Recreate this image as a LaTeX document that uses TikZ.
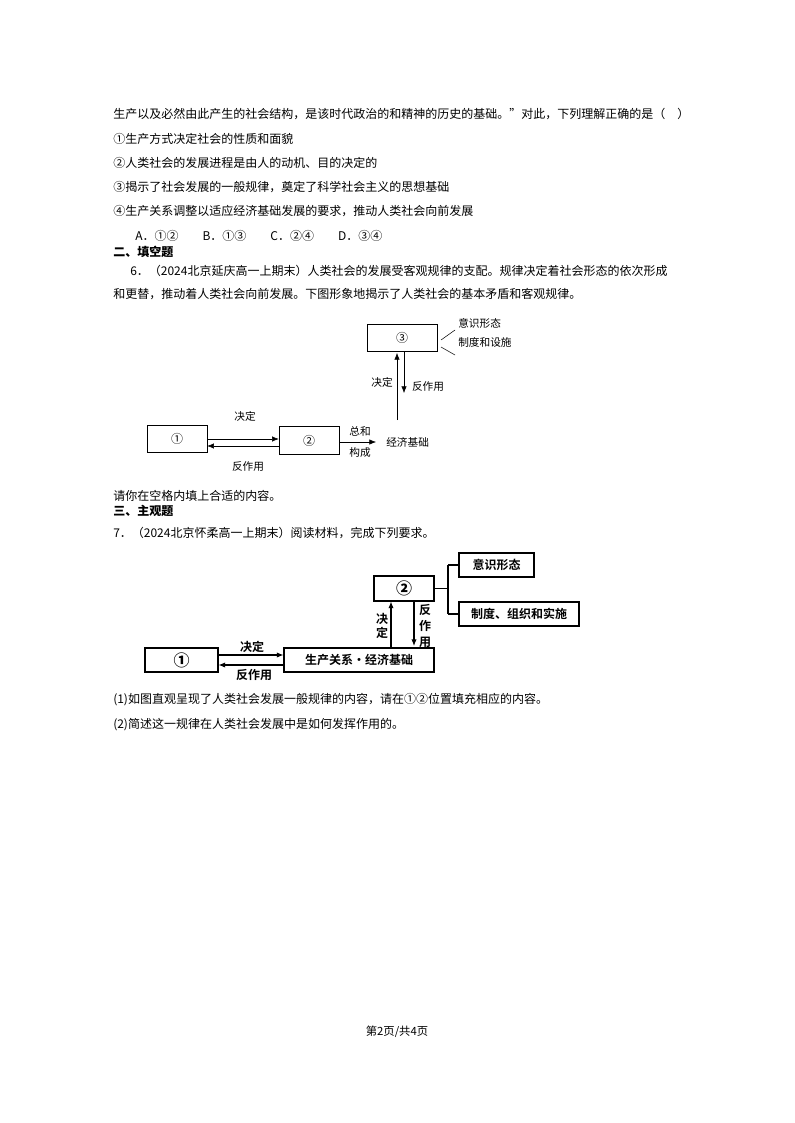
\documentclass[tikz,border=0pt]{standalone}
\usepackage{fontspec}
\setmainfont{Noto Sans CJK SC}
\newfontfamily\cjkb{Noto Sans CJK SC Bold}
\usetikzlibrary{arrows.meta}
\begin{document}
\begin{tikzpicture}[x=0.75pt,y=-0.75pt,
  txt/.style={anchor=west,inner sep=0pt,font=\fontsize{9}{10}\selectfont},
  sm/.style={inner sep=0pt,font=\fontsize{8}{9}\selectfont},
  bx/.style={draw,thick,inner sep=0pt,font=\fontsize{9}{10}\selectfont},
  ar/.style={-{Latex[length=5pt,width=4pt]},thick}]
\useasboundingbox (0,0) rectangle (794,1123);
\node[txt] (l1) at (113,114) {生产以及必然由此产生的社会结构，是该时代政治的和精神的历史的基础。”对此，下列理解正确的是（\quad ）};
\node[txt] (l2) at (113,139) {①生产方式决定社会的性质和面貌};
\node[txt] (l3) at (113,163) {②人类社会的发展进程是由人的动机、目的决定的};
\node[txt] (l4) at (113,187) {③揭示了社会发展的一般规律，奠定了科学社会主义的思想基础};
\node[txt] (l5) at (113,211) {④生产关系调整以适应经济基础发展的要求，推动人类社会向前发展};
\node[txt] (l6) at (135,236) {A．①②\qquad B．①③\qquad C．②④\qquad D．③④};
\node[txt,font=\fontsize{9}{10}\selectfont\bfseries] (h2) at (113,252) {二、填空题};
\node[txt] (l7) at (130,271) {6．（2024北京延庆高一上期末）人类社会的发展受客观规律的支配。规律决定着社会形态的依次形成};
\node[txt] (l8) at (113,294) {和更替，推动着人类社会向前发展。下图形象地揭示了人类社会的基本矛盾和客观规律。};
% diagram 1
\node[draw,minimum width=52.5pt,minimum height=20pt,inner sep=0pt,font=\small] (b3) at (402,337.5) {③};
\node[sm,anchor=west] (t1) at (458,323) {意识形态};
\node[sm,anchor=west] (t2) at (458,342) {制度和设施};
\draw (441,340) -- (455,330);
\draw (441,347) -- (455,355);
\node[draw,minimum width=45pt,minimum height=20pt,inner sep=0pt,font=\small] (b1) at (177,438.5) {①};
\node[draw,minimum width=45pt,minimum height=21pt,inner sep=0pt,font=\small] (b2) at (309,440.5) {②};
\node[sm,anchor=west] (jj) at (386,442) {经济基础};
\coordinate (up0) at (397,420);
\draw[-{Latex[length=5pt,width=4pt]}] (up0) -- (397,353);
\draw[-{Latex[length=5pt,width=4pt]}] (404,351) -- (404,393);
\node[sm] (jd1) at (382,382) {决定};
\node[sm] (fz1) at (428,386) {反作用};
\draw[-{Latex[length=5pt,width=4pt]}] (b1.east|-0,439) -- (b2.west|-0,439);
\draw[-{Latex[length=5pt,width=4pt]}] (b2.west|-0,446) -- (b1.east|-0,446);
\node[sm] (jd2) at (245,416) {决定};
\node[sm] (fz2) at (248,466) {反作用};
\draw[-{Latex[length=5pt,width=4pt]}] (b2.east|-0,442) -- (376,442);
\node[sm] (zh) at (360,431) {总和};
\node[sm] (gc) at (360,452) {构成};
\node[txt] (l9) at (113,496) {请你在空格内填上合适的内容。};
\node[txt,font=\fontsize{9}{10}\selectfont\bfseries] (h3) at (113,511) {三、主观题};
\node[txt] (l10) at (113,533) {7．（2024北京怀柔高一上期末）阅读材料，完成下列要求。};
% diagram 2
\node[bx,minimum width=45pt,minimum height=18.75pt,font=\large\bfseries] (c2) at (404,588.5) {②};
\node[bx,minimum width=56.25pt,minimum height=18pt] (ys) at (496.5,565) {\cjkb 意识形态};
\node[bx,minimum width=90pt,minimum height=18pt] (zd) at (519,614) {\cjkb 制度、组织和实施};
\draw[thick] (c2.east) -- (448,588.5) (448,565) -- (ys.west) (448,614) -- (zd.west) (448,565) -- (448,614);
\node[bx,minimum width=54.75pt,minimum height=18pt,font=\large\bfseries] (c1) at (181.5,660) {①};
\node[bx,minimum width=112.5pt,minimum height=18pt] (sc) at (359,660) {\cjkb 生产关系·经济基础};
\draw[ar] (sc.north-|391,0) -- (c2.south-|391,0);
\draw[ar] (c2.south-|414,0) -- (414,646);
\node[sm,align=center,font=\fontsize{9}{11}\selectfont\cjkb] (jd3) at (382,626) {决\\定};
\node[sm,align=center,font=\fontsize{9}{12}\selectfont\cjkb] (fz3) at (425,626) {反\\作\\用};
\draw[ar] (c1.east|-0,655) -- (sc.west|-0,655);
\draw[ar] (sc.west|-0,665) -- (c1.east|-0,665);
\node[sm,font=\fontsize{9}{10}\selectfont\cjkb] (jd4) at (252,647) {决定};
\node[sm,font=\fontsize{9}{10}\selectfont\cjkb] (fz4) at (254,675) {反作用};
\node[txt] (l11) at (113,700) {(1)如图直观呈现了人类社会发展一般规律的内容，请在①②位置填充相应的内容。};
\node[txt] (l12) at (113,725) {(2)简述这一规律在人类社会发展中是如何发挥作用的。};
\node[sm,font=\fontsize{8.5}{10}\selectfont] (ft) at (397,1032) {第2页/共4页};
\end{tikzpicture}
\end{document}
